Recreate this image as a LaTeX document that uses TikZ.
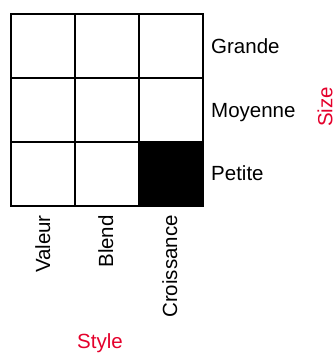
\documentclass[tikz,border=0pt]{standalone}
\usepackage{fontspec}
\setmainfont{Liberation Sans}
\usepackage{xcolor}
\usetikzlibrary{positioning}
\definecolor{axisred}{RGB}{228,0,43}

\begin{document}
\begin{tikzpicture}[
    x=1pt, y=-1pt,
    cell/.style={rectangle, draw=black, line width=1.5pt, fill=#1, minimum size=64pt, inner sep=0pt},
    rowlabel/.style={anchor=base west, inner sep=0pt, font=\fontsize{20.5}{24}\selectfont},
    collabel/.style={anchor=base east, rotate=90, inner sep=0pt, font=\fontsize{20.5}{24}\selectfont},
    axislabel/.style={text=axisred, inner sep=0pt, font=\fontsize{20.5}{24}\selectfont}
]
\useasboundingbox (0,0) rectangle (336,354);

% Grid cells
\node[cell=white] (gv) at (43,46) {};
\node[cell=white] (gb) at (107,46) {};
\node[cell=white] (gc) at (171,46) {};
\node[cell=white] (mv) at (43,110) {};
\node[cell=white] (mb) at (107,110) {};
\node[cell=white] (mc) at (171,110) {};
\node[cell=white] (pv) at (43,174) {};
\node[cell=white] (pb) at (107,174) {};
\node[cell=black] (pc) at (171,174) {};

% Size labels
\node[rowlabel] (grande) at (211,53) {Grande};
\node[rowlabel] (moyenne) at (211,117) {Moyenne};
\node[rowlabel] (petite) at (211,180.5) {Petite};

% Style labels
\node[collabel] (valeur) at (50,215) {Valeur};
\node[collabel] (blend) at (113,215) {Blend};
\node[collabel] (croissance) at (177,215) {Croissance};

% Axis titles
\node[axislabel, rotate=90] (size) at (325,107) {Size};
\node[axislabel] (style) at (100,343) {Style};

\end{tikzpicture}
\end{document}
